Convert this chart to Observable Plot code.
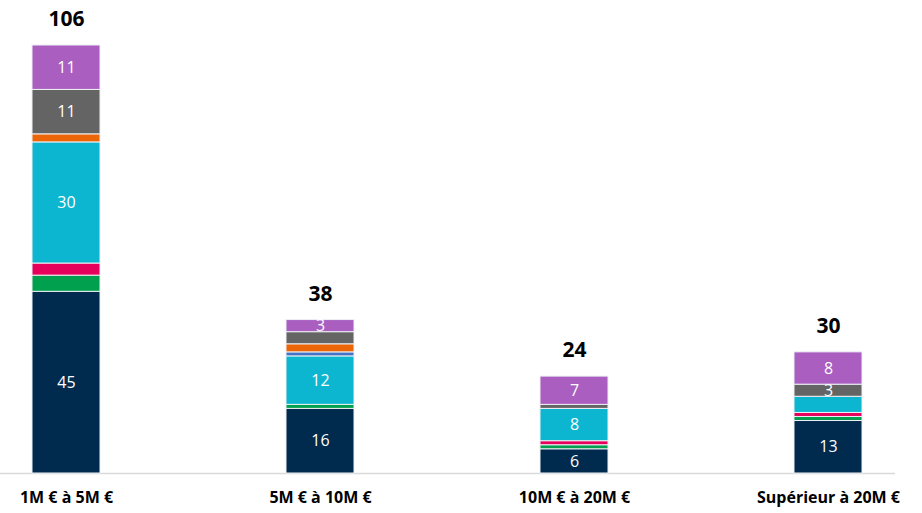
<!DOCTYPE html>
<html>
<head>
<meta charset="utf-8">
<script src="https://cdn.jsdelivr.net/npm/d3@7"></script>
<script src="https://cdn.jsdelivr.net/npm/@observablehq/plot@0.6"></script>
<style>
  html, body { margin: 0; padding: 0; background: #fff; }
  #chart { width: 922px; height: 513px; }
</style>
</head>
<body>
<div id="chart"></div>
<script>
const categories = ["1M € à 5M €", "5M € à 10M €", "10M € à 20M €", "Supérieur à 20M €"];
const seriesNames = ["S1", "S2", "S3", "S4", "S5", "S6", "S7", "S8"];
const seriesColors = ["#002a4e", "#00a04f", "#e6005c", "#0db6d0", "#4472c4", "#ec6608", "#646464", "#a95ec0"];
const s1 = [45, 16, 6, 13];
const s2 = [4, 1, 1, 1];
const s3 = [3, 0, 1, 1];
const s4 = [30, 12, 8, 4];
const s5 = [0, 1, 0, 0];
const s6 = [2, 2, 0, 0];
const s7 = [11, 3, 1, 3];
const s8 = [11, 3, 7, 8];
const totals = [106, 38, 24, 30];
// segments whose value is written inside the bar: [category index, series name]
const labelled = [[0,"S1"],[0,"S4"],[0,"S7"],[0,"S8"],[1,"S1"],[1,"S4"],[1,"S8"],[2,"S1"],[2,"S4"],[2,"S8"],[3,"S1"],[3,"S7"],[3,"S8"]];

const seriesValues = [s1, s2, s3, s4, s5, s6, s7, s8];
const rows = [];
categories.forEach((c, i) => seriesNames.forEach((s, j) => {
  rows.push({cat: c, series: s, value: seriesValues[j][i],
    show: labelled.some(([ci, sn]) => ci === i && sn === s)});
}));
const totalRows = categories.map((c, i) => ({cat: c, total: totals[i]}));

const chart = Plot.plot({
  width: 922,
  height: 513,
  marginLeft: 0,
  marginRight: 27,
  marginTop: 45,
  marginBottom: 40,
  style: {fontFamily: "'Open Sans', sans-serif", background: "#fff"},
  x: {domain: categories, paddingInner: 0.732, paddingOuter: 0.126, label: null},
  y: {domain: [0, 106], axis: null},
  color: {domain: seriesNames, range: seriesColors},
  marks: [
    Plot.ruleY([0], {stroke: "#d9d9d9", strokeWidth: 1.5}),
    Plot.barY(rows, {x: "cat", y: "value", fill: "series", order: seriesNames, stroke: "#eef0f4", strokeWidth: 1}),
    Plot.text(rows, Plot.stackY({x: "cat", y: "value", z: "series", order: seriesNames,
      text: d => d.show ? String(d.value) : "", fill: "white", fontSize: 16, fontFamily: "'Open Sans', sans-serif"})),
    Plot.text(totalRows, {x: "cat", y: "total", text: d => String(d.total), dy: -26, fontSize: 21, fontWeight: "bold", fill: "#000", fontFamily: "'Open Sans', sans-serif"}),
    Plot.axisX({tickSize: 0, tickPadding: 18, fontSize: 16, fontWeight: "bold", fill: "#000", label: null})
  ]
});
document.getElementById("chart").appendChild(chart);
</script>
</body>
</html>
